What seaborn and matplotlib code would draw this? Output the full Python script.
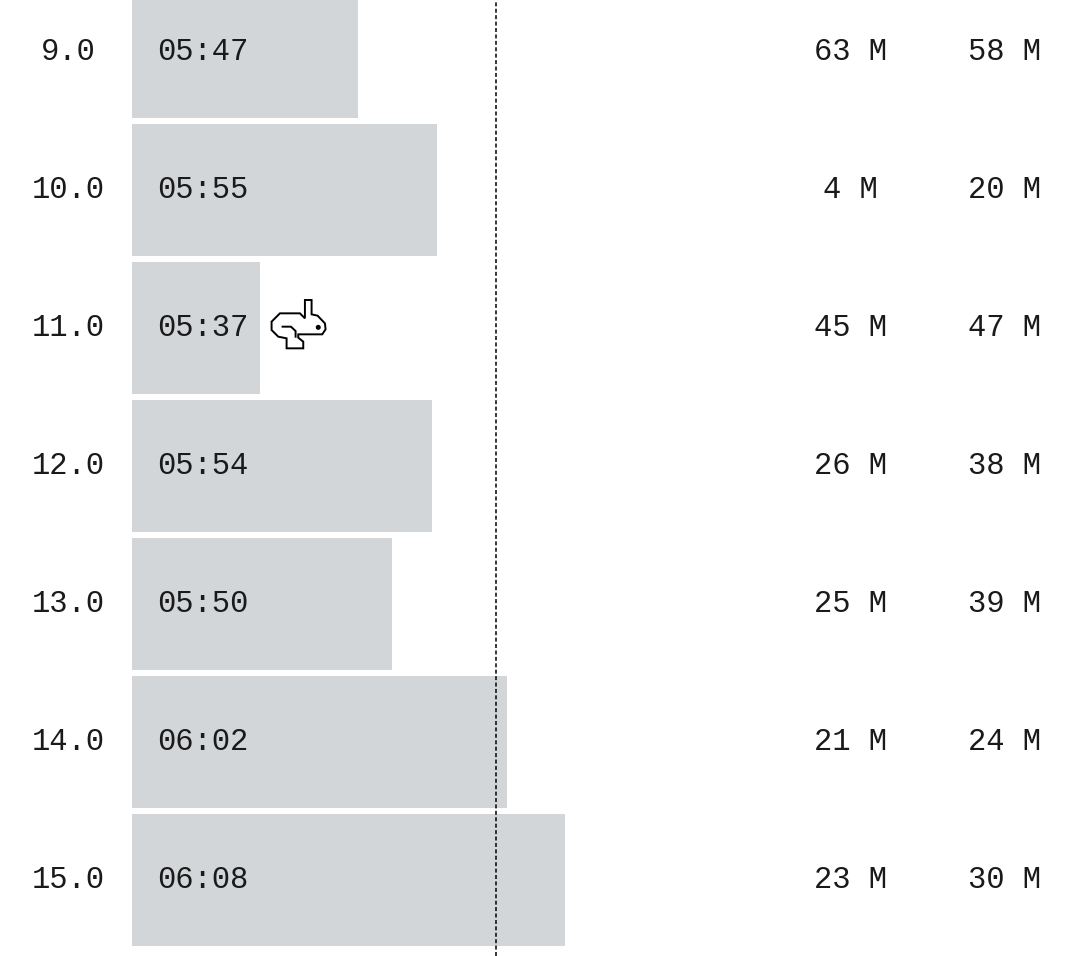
import matplotlib
matplotlib.use('Agg')
import matplotlib.pyplot as plt
import matplotlib.transforms as mtransforms
from matplotlib.path import Path
from matplotlib.patches import PathPatch, Circle
import seaborn as sns
import pandas as pd

rows = ['9.0', '10.0', '11.0', '12.0', '13.0', '14.0', '15.0']
times = ['05:47', '05:55', '05:37', '05:54', '05:50', '06:02', '06:08']
# durations in seconds
seconds = [347.0, 355.0, 337.0, 354.5, 350.4, 362.1, 368.0]
col_a = [63, 4, 45, 26, 25, 21, 23]
col_b = [58, 20, 47, 38, 39, 24, 30]
base_sec = 324   # 05:24, where the bars start
ref_sec = 361    # dotted reference line

df = pd.DataFrame({'row': rows, 'time': times,
                   'value': [s - base_sec for s in seconds]})

sns.set_theme(style='white')
plt.rcParams['font.family'] = ['Liberation Mono', 'DejaVu Sans Mono']

fig = plt.figure(figsize=(10.8, 9.56), dpi=100)
ax = fig.add_axes([0, 0, 1, 1])

sns.barplot(data=df, x='value', y='row', order=rows, orient='h',
            color='#d3d6d9', saturation=1, width=0.95, linewidth=0, ax=ax)

# ~9.84 px per second, bars start 132 px from the left
ax.set_xlim(-132 / 9.84, (1080 - 132) / 9.84)
ax.set_ylim(6.551, -0.377)
ax.axis('off')

ax.axvline(ref_sec - base_sec, color='black', lw=1.1,
           linestyle=(0, (2.6, 1.6)), zorder=5)

txt = dict(fontsize=22, color='#1a1a1a', va='center')
tr = ax.get_yaxis_transform()
for i in range(len(rows)):
    ax.text(68 / 1080, i, rows[i], transform=tr, ha='center', **txt)
    ax.text(157 / 1080, i, times[i], transform=tr, ha='left', **txt)
    ax.text(850 / 1080, i, f'{col_a[i]} M', transform=tr, ha='center', **txt)
    ax.text(1004 / 1080, i, f'{col_b[i]} M', transform=tr, ha='center', **txt)

# rabbit icon next to the fastest time
fast = df['value'].idxmin()
outline = [(120, 15), (140, 15), (140, 58), (158, 62), (180, 85), (182, 103),
           (172, 118), (100, 118), (100, 128), (115, 140), (115, 160),
           (65, 160), (65, 130), (40, 125), (20, 105), (20, 80), (45, 55),
           (105, 55), (120, 70), (120, 15)]
inner = [(50, 95), (78, 95), (92, 108), (92, 128)]
verts = outline + inner
codes = ([Path.MOVETO] + [Path.LINETO] * (len(outline) - 2) + [Path.CLOSEPOLY]
         + [Path.MOVETO] + [Path.LINETO] * (len(inner) - 1))
rabbit = Path([(5 + x / 3, 33 - y / 3) for x, y in verts], codes)
icon_tr = mtransforms.IdentityTransform() + mtransforms.ScaledTranslation(
    df['value'][fast], fast, ax.transData)
ax.add_patch(PathPatch(rabbit, facecolor='white', edgecolor='black', lw=1.4,
                       transform=icon_tr, zorder=6, joinstyle='miter'))
ax.add_patch(Circle((5 + 160 / 3, 33 - 97 / 3), 1.8, color='black',
                    transform=icon_tr, zorder=7))

fig.savefig('out.png', dpi=100, facecolor='white')
